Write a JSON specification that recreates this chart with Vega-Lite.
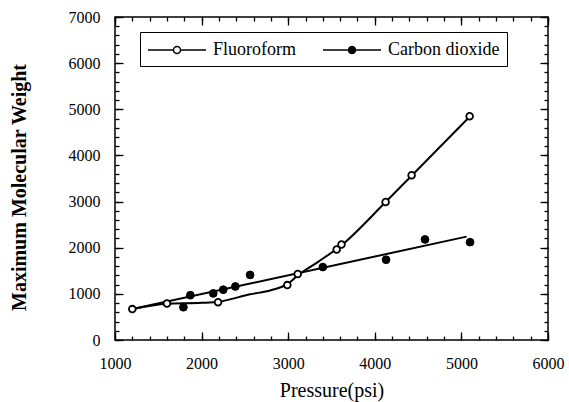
{
  "$schema": "https://vega.github.io/schema/vega-lite/v6.json",
  "width": 433,
  "height": 323,
  "autosize": {"type": "none"},
  "padding": {"left": 115, "top": 17, "right": 21, "bottom": 62},
  "background": "white",
  "config": {
    "view": {"stroke": "black", "strokeWidth": 1.5},
    "font": "Liberation Serif",
    "axis": {"domain": false, "grid": false, "tickColor": "black", "tickWidth": 1.3, "labelColor": "black", "titleColor": "black", "labelFont": "Liberation Serif", "titleFont": "Liberation Serif"}
  },
  "datasets": {
    "points": [
      {"series": "Fluoroform", "pressure": 1200, "mw": 670},
      {"series": "Fluoroform", "pressure": 1600, "mw": 790},
      {"series": "Fluoroform", "pressure": 2190, "mw": 820},
      {"series": "Fluoroform", "pressure": 2990, "mw": 1190},
      {"series": "Fluoroform", "pressure": 3110, "mw": 1430},
      {"series": "Fluoroform", "pressure": 3560, "mw": 1960},
      {"series": "Fluoroform", "pressure": 3615, "mw": 2070},
      {"series": "Fluoroform", "pressure": 4125, "mw": 2990},
      {"series": "Fluoroform", "pressure": 4425, "mw": 3570},
      {"series": "Fluoroform", "pressure": 5095, "mw": 4850},
      {"series": "Carbon dioxide", "pressure": 1790, "mw": 710},
      {"series": "Carbon dioxide", "pressure": 1870, "mw": 970},
      {"series": "Carbon dioxide", "pressure": 2135, "mw": 1010},
      {"series": "Carbon dioxide", "pressure": 2250, "mw": 1090},
      {"series": "Carbon dioxide", "pressure": 2390, "mw": 1160},
      {"series": "Carbon dioxide", "pressure": 2560, "mw": 1410},
      {"series": "Carbon dioxide", "pressure": 3400, "mw": 1580},
      {"series": "Carbon dioxide", "pressure": 4130, "mw": 1740},
      {"series": "Carbon dioxide", "pressure": 4580, "mw": 2180},
      {"series": "Carbon dioxide", "pressure": 5100, "mw": 2120}
    ],
    "curves": [
      {"series": "Fluoroform", "pressure": 1200, "mw": 670},
      {"series": "Fluoroform", "pressure": 1600, "mw": 785},
      {"series": "Fluoroform", "pressure": 2000, "mw": 805},
      {"series": "Fluoroform", "pressure": 2200, "mw": 830},
      {"series": "Fluoroform", "pressure": 2560, "mw": 990},
      {"series": "Fluoroform", "pressure": 2800, "mw": 1080},
      {"series": "Fluoroform", "pressure": 2990, "mw": 1210},
      {"series": "Fluoroform", "pressure": 3110, "mw": 1400},
      {"series": "Fluoroform", "pressure": 3350, "mw": 1700},
      {"series": "Fluoroform", "pressure": 3600, "mw": 2030},
      {"series": "Fluoroform", "pressure": 4125, "mw": 2990},
      {"series": "Fluoroform", "pressure": 4425, "mw": 3560},
      {"series": "Fluoroform", "pressure": 5095, "mw": 4840},
      {"series": "Carbon dioxide", "pressure": 1200, "mw": 670},
      {"series": "Carbon dioxide", "pressure": 5060, "mw": 2240}
    ]
  },
  "layer": [
    {
      "data": {"name": "curves"},
      "transform": [{"filter": "datum.series === 'Fluoroform'"}],
      "mark": {"type": "line", "color": "black", "strokeWidth": 2, "interpolate": "monotone"},
      "encoding": {
        "x": {"field": "pressure", "type": "quantitative", "scale": {"domain": [1000, 6000], "nice": false},
          "axis": {"orient": "bottom", "values": [1000, 2000, 3000, 4000, 5000, 6000], "format": "d", "tickSize": -8, "labelPadding": 23, "labelFontSize": 16, "labelFlush": false,
            "title": "Pressure(psi)", "titleFontSize": 20, "titleFontWeight": "normal", "titleY": 50, "titleBaseline": "middle"}},
        "y": {"field": "mw", "type": "quantitative", "scale": {"domain": [0, 7000], "nice": false},
          "axis": {"orient": "left", "values": [0, 1000, 2000, 3000, 4000, 5000, 6000, 7000], "format": "d", "tickSize": -8, "labelPadding": 23, "labelFontSize": 16, "labelFlush": false,
            "title": "Maximum Molecular Weight", "titleFontSize": 20, "titleFontWeight": "bold", "titleX": -96, "titleY": 170, "titleBaseline": "middle"}}
      }
    },
    {
      "data": {"name": "curves"},
      "transform": [{"filter": "datum.series === 'Carbon dioxide'"}],
      "mark": {"type": "line", "color": "black", "strokeWidth": 2},
      "encoding": {
        "x": {"field": "pressure", "type": "quantitative",
          "axis": {"orient": "bottom", "values": [1000, 1200, 1400, 1600, 1800, 2000, 2200, 2400, 2600, 2800, 3000, 3200, 3400, 3600, 3800, 4000, 4200, 4400, 4600, 4800, 5000, 5200, 5400, 5600, 5800, 6000], "tickSize": -4, "labels": false, "title": null}},
        "y": {"field": "mw", "type": "quantitative",
          "axis": {"orient": "left", "values": [0, 200, 400, 600, 800, 1000, 1200, 1400, 1600, 1800, 2000, 2200, 2400, 2600, 2800, 3000, 3200, 3400, 3600, 3800, 4000, 4200, 4400, 4600, 4800, 5000, 5200, 5400, 5600, 5800, 6000, 6200, 6400, 6600, 6800, 7000], "tickSize": -4, "labels": false, "title": null}}
      }
    },
    {
      "data": {"name": "points"},
      "transform": [{"filter": "datum.series === 'Fluoroform'"}],
      "mark": {"type": "point", "shape": "circle", "filled": true, "stroke": "black", "strokeWidth": 1.8, "size": 45, "opacity": 1},
      "encoding": {
        "x": {"field": "pressure", "type": "quantitative",
          "axis": {"orient": "top", "values": [1000, 2000, 3000, 4000, 5000, 6000], "tickSize": -8, "labels": false, "title": null}},
        "y": {"field": "mw", "type": "quantitative",
          "axis": {"orient": "right", "values": [0, 1000, 2000, 3000, 4000, 5000, 6000, 7000], "tickSize": -8, "labels": false, "title": null}},
        "fill": {"field": "series", "type": "nominal",
          "scale": {"domain": ["Fluoroform", "Carbon dioxide"], "range": ["white", "black"]},
          "legend": {"orient": "none", "legendX": 25, "legendY": 15, "direction": "horizontal", "title": null,
            "symbolType": "M-1,0H1.55M2.25,0H4.8M1.55,0A0.35,0.35,0,1,1,2.25,0A0.35,0.35,0,1,1,1.55,0Z",
            "symbolSize": 400, "symbolStrokeColor": "black", "symbolStrokeWidth": 1.5,
            "labelFont": "Liberation Serif", "labelFontSize": 18, "labelColor": "black", "labelOffset": 44,
            "strokeColor": "black", "padding": 7, "columnPadding": 24}}
      }
    },
    {
      "data": {"name": "points"},
      "transform": [{"filter": "datum.series === 'Carbon dioxide'"}],
      "mark": {"type": "point", "shape": "circle", "filled": true, "stroke": "black", "strokeWidth": 1, "size": 60, "opacity": 1},
      "encoding": {
        "x": {"field": "pressure", "type": "quantitative",
          "axis": {"orient": "top", "values": [1000, 1200, 1400, 1600, 1800, 2000, 2200, 2400, 2600, 2800, 3000, 3200, 3400, 3600, 3800, 4000, 4200, 4400, 4600, 4800, 5000, 5200, 5400, 5600, 5800, 6000], "tickSize": -4, "labels": false, "title": null}},
        "y": {"field": "mw", "type": "quantitative",
          "axis": {"orient": "right", "values": [0, 200, 400, 600, 800, 1000, 1200, 1400, 1600, 1800, 2000, 2200, 2400, 2600, 2800, 3000, 3200, 3400, 3600, 3800, 4000, 4200, 4400, 4600, 4800, 5000, 5200, 5400, 5600, 5800, 6000, 6200, 6400, 6600, 6800, 7000], "tickSize": -4, "labels": false, "title": null}},
        "fill": {"field": "series", "type": "nominal"}
      }
    }
  ],
  "resolve": {"axis": {"x": "independent", "y": "independent"}}
}
